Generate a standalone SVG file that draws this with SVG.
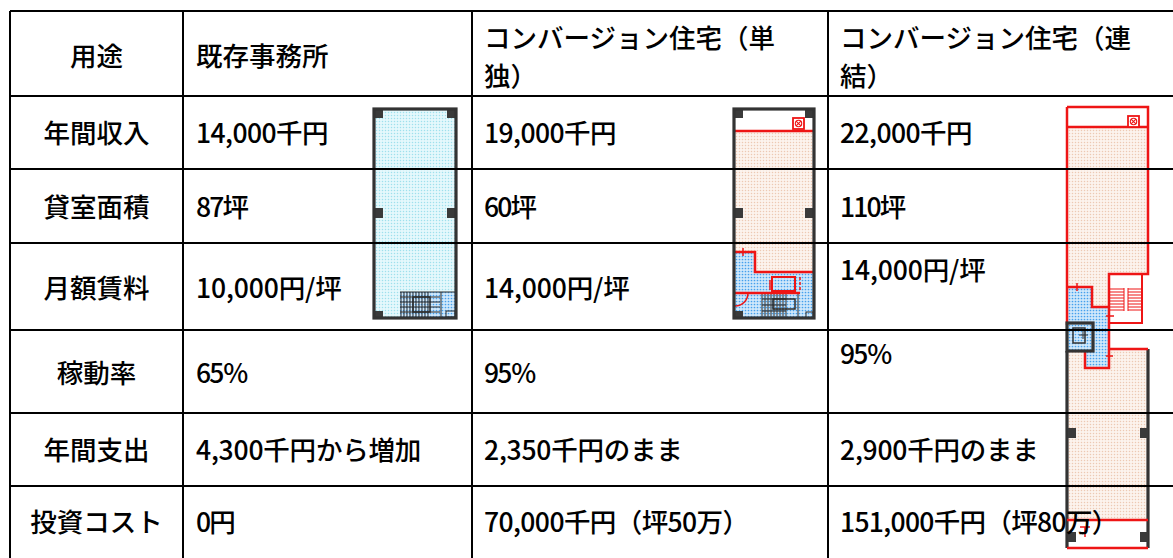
<svg xmlns="http://www.w3.org/2000/svg" width="1173" height="558" viewBox="0 0 1173 558">
<style>
.t{font-family:"Noto Sans CJK JP","Noto Sans",sans-serif;font-size:26.5px;font-weight:500;fill:#000}
.c{text-anchor:middle}
.grid{stroke:#000;stroke-width:2;fill:none}
.wall{stroke:#333;stroke-width:3.2;fill:none}
.red{stroke:#ee1515;stroke-width:2.5;fill:none}
.redt{stroke:#ee1515;stroke-width:1.5;fill:none}
.col{fill:#3a3a3a}
.st{stroke:#2a2a2a;stroke-width:1;fill:none}
</style>
<defs>
<pattern id="dotCyan" width="3" height="3" patternUnits="userSpaceOnUse"><rect width="3" height="3" fill="#e4f8fc"/><circle cx="1.5" cy="1.5" r="0.75" fill="#9ee0ed"/></pattern>
<pattern id="dotPeach" width="3" height="3" patternUnits="userSpaceOnUse"><rect width="3" height="3" fill="#fcf3ed"/><circle cx="1.5" cy="1.5" r="0.75" fill="#edc9b3"/></pattern>
<pattern id="dotBlue" width="3" height="3" patternUnits="userSpaceOnUse"><rect width="3" height="3" fill="#d0e8fb"/><circle cx="1.5" cy="1.5" r="0.85" fill="#45a0ec"/></pattern>
<g id="xbox"><rect x="0" y="0" width="11" height="11" fill="#fff" stroke="#ee1515" stroke-width="1.8"/><circle cx="5.5" cy="5.5" r="3.2" fill="none" stroke="#ee1515" stroke-width="1.1"/><path d="M2.8 2.8L8.2 8.2M8.2 2.8L2.8 8.2" stroke="#ee1515" stroke-width="1.1"/></g>
</defs>
<rect width="1173" height="558" fill="#fff"/>

<!-- Plan 1: existing office -->
<g id="plan-office">
<rect x="374" y="109" width="82" height="209" fill="url(#dotCyan)"/>
<rect x="400" y="292" width="56" height="26" fill="url(#dotBlue)"/>
<path class="st" d="M400 292H456M401 292V318M404 292V318M407 292V318M410 292V318M413 292V318M416 292V318M419 292V318M422 292V318M425 292V318M428 292V318M400 297H440M400 302H440M400 307H440M400 312H440M441 292V318"/>
<rect x="413" y="297" width="17" height="15" fill="none" stroke="#2a2a2a" stroke-width="1.5"/>
<rect x="446" y="311" width="9" height="6" fill="none" stroke="#2a2a2a" stroke-width="1"/>
<rect class="col" x="375" y="110" width="8" height="8"/>
<rect class="col" x="447" y="110" width="8" height="8"/>
<rect class="col" x="375" y="208" width="8" height="10"/>
<rect class="col" x="447" y="208" width="8" height="10"/>
<rect class="col" x="375" y="311" width="8" height="6"/>
<rect class="wall" x="374" y="109" width="82" height="209"/>
</g>

<!-- Plan 2: conversion single -->
<g id="plan-single">
<rect x="734" y="109" width="80" height="22" fill="#fff"/>
<rect x="734" y="131" width="80" height="187" fill="url(#dotPeach)"/>
<path d="M734 252H755V272H814V318H734Z" fill="url(#dotBlue)"/>
<path class="st" d="M762 293V318M765 293V318M768 293V318M771 293V318M774 293V318M777 293V318M780 293V318M783 293V318M786 293V318M762 299H786M762 305H786M762 311H786M798 293V318"/>
<rect x="773" y="299" width="22" height="10" fill="none" stroke="#2a2a2a" stroke-width="1.5"/>
<rect x="806" y="312" width="7" height="6" fill="none" stroke="#2a2a2a" stroke-width="1"/>
<path class="red" d="M734 131H814"/>
<path class="red" d="M734 252H755V272H814"/>
<path class="redt" d="M743 248V256M770 280V290"/>
<rect x="772" y="277" width="23" height="14" fill="none" stroke="#ee1515" stroke-width="2"/>
<path d="M800 277V292" stroke="#ee1515" stroke-width="1.5" stroke-dasharray="3 2"/>
<path class="red" d="M734 293H800"/>
<path class="redt" d="M735 306A13 13 0 0 0 748 293"/>
<use href="#xbox" x="793" y="118"/>
<rect class="col" x="735" y="110" width="8" height="8"/>
<rect class="col" x="805" y="110" width="8" height="8"/>
<rect class="col" x="735" y="208" width="8" height="10"/>
<rect class="col" x="805" y="208" width="8" height="10"/>
<rect class="col" x="735" y="311" width="8" height="6"/>
<rect class="wall" x="734" y="109" width="80" height="209"/>
</g>

<!-- Plan 3: conversion connected -->
<g id="plan-connected">
<rect x="1067" y="107" width="81" height="20" fill="#fff"/>
<path d="M1067 127H1148V274H1109V307H1092V287H1067Z" fill="url(#dotPeach)"/>
<rect x="1067" y="349" width="81" height="171" fill="url(#dotPeach)"/>
<rect x="1067" y="520" width="81" height="28" fill="#fff"/>
<path d="M1067 287H1092V307H1109V368H1085V351H1067Z" fill="url(#dotBlue)"/>
<rect x="1109" y="274" width="33" height="49" fill="#fff" stroke="#ee1515" stroke-width="2"/>
<path d="M1110 289H1142M1110 292H1142M1110 295H1142M1110 298H1142M1110 301H1142M1110 304H1142M1110 307H1142M1110 310H1142" stroke="#ee1515" stroke-width="1.2"/>
<rect x="1124" y="287" width="4" height="25" fill="#fff"/>
<path d="M1124 288V311M1128 288V311" stroke="#ee1515" stroke-width="1"/>
<path class="red" d="M1067 107H1148V274H1109V368H1085V351"/>
<path class="red" d="M1067 127H1148"/>
<path class="red" d="M1067 107V325"/>
<path class="red" d="M1067 287H1092V307H1109"/>
<path class="redt" d="M1077 283V291M1106 316H1114M1106 356H1113"/>
<use href="#xbox" x="1128" y="116"/>
<rect x="1067" y="323" width="26" height="28" fill="url(#dotBlue)" stroke="#333" stroke-width="3.2"/>
<rect x="1073" y="328" width="12" height="15" fill="none" stroke="#333" stroke-width="1.5"/>
<path d="M1079 335H1088M1083 331V339" stroke="#333" stroke-width="1"/>
<path class="wall" d="M1067 351V548M1148 349V548"/>
<path class="red" d="M1109 349H1148M1067 520H1148M1067 548H1148"/>
<path class="redt" d="M1080 527H1090M1085 527V537"/>
<rect class="col" x="1068" y="428" width="8" height="10"/>
<rect class="col" x="1140" y="428" width="8" height="10"/>
<rect class="col" x="1068" y="532" width="8" height="10"/>
<rect class="col" x="1140" y="532" width="8" height="10"/>
</g>

<!-- Table grid (drawn over the plans) -->
<g id="connectors">
<path class="grid" d="M10 11H1180M10 96H1180M10 169H1180M10 243H1180M10 330H1180M10 413H1180M10 486H1180"/>
<path class="grid" d="M10 11V560M183 11V560M472 11V560M828 11V560"/>
</g>

<g id="row-header">
<text class="t c" x="96.5" y="66">用途</text>
<text class="t" x="196" y="66">既存事務所</text>
<text class="t" x="484" y="48">コンバージョン住宅（単<tspan x="484" dy="38">独）</tspan></text>
<text class="t" x="840" y="48">コンバージョン住宅（連<tspan x="840" dy="38">結）</tspan></text>
</g>
<g id="row-income">
<text class="t c" x="96.5" y="143">年間収入</text>
<text class="t" x="196" y="143" textLength="132.5" lengthAdjust="spacing">14,000千円</text>
<text class="t" x="484" y="143" textLength="132.5" lengthAdjust="spacing">19,000千円</text>
<text class="t" x="840" y="143" textLength="132.5" lengthAdjust="spacing">22,000千円</text>
</g>
<g id="row-area">
<text class="t c" x="96.5" y="217">貸室面積</text>
<text class="t" x="196" y="217" textLength="53" lengthAdjust="spacing">87坪</text>
<text class="t" x="484" y="217" textLength="53" lengthAdjust="spacing">60坪</text>
<text class="t" x="840" y="217" textLength="66.25" lengthAdjust="spacing">110坪</text>
</g>
<g id="row-rent">
<text class="t c" x="96.5" y="298">月額賃料</text>
<text class="t" x="196" y="298" textLength="145.75" lengthAdjust="spacing">10,000円/坪</text>
<text class="t" x="484" y="298" textLength="145.75" lengthAdjust="spacing">14,000円/坪</text>
<text class="t" x="840" y="280" textLength="145.75" lengthAdjust="spacing">14,000円/坪</text>
</g>
<g id="row-occupancy">
<text class="t c" x="96.5" y="383">稼動率</text>
<text class="t" x="196" y="383" textLength="53" lengthAdjust="spacing">65％</text>
<text class="t" x="484" y="383" textLength="53" lengthAdjust="spacing">95％</text>
<text class="t" x="840" y="364" textLength="53" lengthAdjust="spacing">95％</text>
</g>
<g id="row-expense">
<text class="t c" x="96.5" y="460">年間支出</text>
<text class="t" x="196" y="460" textLength="225.25" lengthAdjust="spacing">4,300千円から増加</text>
<text class="t" x="484" y="460" textLength="198.75" lengthAdjust="spacing">2,350千円のまま</text>
<text class="t" x="840" y="460" textLength="198.75" lengthAdjust="spacing">2,900千円のまま</text>
</g>
<g id="row-cost">
<text class="t c" x="96.5" y="532">投資コスト</text>
<text class="t" x="196" y="532" textLength="39.75" lengthAdjust="spacing">0円</text>
<text class="t" x="484" y="532" textLength="265" lengthAdjust="spacing">70,000千円（坪50万）</text>
<text class="t" x="840" y="532" textLength="278.25" lengthAdjust="spacing">151,000千円（坪80万）</text>
</g>
</svg>
